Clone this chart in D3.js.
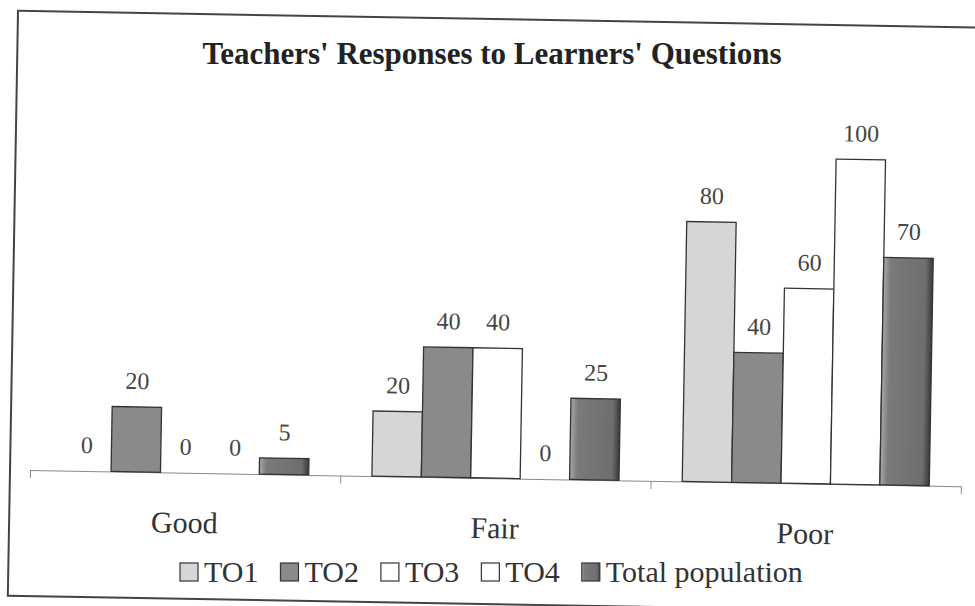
<!DOCTYPE html>
<html>
<head>
<meta charset="utf-8">
<script src="https://cdn.jsdelivr.net/npm/d3@7"></script>
<style>
  html, body { margin: 0; padding: 0; background: #fff; }
  svg { display: block; }
</style>
</head>
<body>
<script>
// data
const categories = ["Good", "Fair", "Poor"];
const series = ["TO1", "TO2", "TO3", "TO4", "Total population"];
const valuesTO1 = [0, 20, 80];
const valuesTO2 = [20, 40, 40];
const valuesTO3 = [0, 40, 60];
const valuesTO4 = [0, 0, 100];
const valuesTotal = [5, 25, 70];
const titleText = "Teachers' Responses to Learners' Questions";

const allValues = [valuesTO1, valuesTO2, valuesTO3, valuesTO4, valuesTotal];
const fills = ["#d6d6d6", "#8a8a8a", "#ffffff", "#ffffff", "url(#totalGrad)"];

const W = 975, H = 606;
const font = "'Liberation Serif', 'Times New Roman', serif";

const svg = d3.select("body").append("svg")
    .attr("width", W)
    .attr("height", H);

const defs = svg.append("defs");
const grad = defs.append("linearGradient").attr("id", "totalGrad")
    .attr("x1", "0%").attr("x2", "100%").attr("y1", "0%").attr("y2", "0%");
grad.append("stop").attr("offset", "0%").attr("stop-color", "#a8a8a8");
grad.append("stop").attr("offset", "15%").attr("stop-color", "#7a7a7a");
grad.append("stop").attr("offset", "85%").attr("stop-color", "#6e6e6e");
grad.append("stop").attr("offset", "100%").attr("stop-color", "#3a3a3a");

// the scan is tilted about a degree, the plot area follows it
const page = svg.append("g")
    .attr("transform", "rotate(1.0, 487, 303)");

page.append("rect")
    .attr("x", 13).attr("y", 19)
    .attr("width", 1000).attr("height", 585)
    .attr("fill", "none")
    .attr("stroke", "#444")
    .attr("stroke-width", 2);

const left = 33, right = 964, baseY = 478, topY = 153;

const x0 = d3.scaleBand()
    .domain(categories)
    .range([left, right])
    .padding(0);

const x1 = d3.scaleBand()
    .domain(series)
    .range([0, x0.bandwidth()])
    .paddingInner(0)
    .paddingOuter(0.64);

const y = d3.scaleLinear()
    .domain([0, 100])
    .range([baseY, topY]);

const rows = [];
categories.forEach(function(c, i){
    series.forEach(function(s, j){
        rows.push({cat: c, ser: s, value: allValues[j][i], fill: fills[j]});
    });
});

// baseline with ticks at the category edges
const xEdge = d3.scaleLinear().domain([0, categories.length]).range([left, right]);
const axis = page.append("g")
    .attr("transform", "translate(0," + baseY + ")")
    .call(d3.axisBottom(xEdge).tickValues(d3.range(categories.length + 1)).tickFormat("").tickSizeInner(8).tickSizeOuter(0));
axis.selectAll("path, line").attr("stroke", "#8a8a8a");

page.selectAll(".bar")
    .data(rows.filter(function(d){ return d.value > 0; }))
    .enter()
    .append("rect")
    .attr("class", "bar")
    .attr("x", function(d){ return x0(d.cat) + x1(d.ser); })
    .attr("y", function(d){ return y(d.value); })
    .attr("width", x1.bandwidth())
    .attr("height", function(d){ return baseY - y(d.value); })
    .attr("fill", function(d){ return d.fill; })
    .attr("stroke", "#333")
    .attr("stroke-width", 1.3);

page.selectAll(".textlabel")
    .data(rows)
    .enter()
    .append("text")
    .attr("class", "textlabel")
    .attr("x", function(d){ return x0(d.cat) + x1(d.ser) + x1.bandwidth() / 2; })
    .attr("y", function(d){ return y(d.value) - 18; })
    .attr("text-anchor", "middle")
    .attr("font-family", font)
    .attr("font-size", "24px")
    .attr("fill", "#444")
    .text(function(d){ return d.value; });

page.selectAll(".catlabel")
    .data(categories)
    .enter()
    .append("text")
    .attr("class", "catlabel")
    .attr("x", function(d){ return x0(d) + x0.bandwidth() / 2; })
    .attr("y", 538)
    .attr("text-anchor", "middle")
    .attr("font-family", font)
    .attr("font-size", "30px")
    .attr("fill", "#333")
    .text(function(d){ return d; });

// title and legend sit level in the scan
svg.append("text")
    .attr("x", 492)
    .attr("y", 64)
    .attr("text-anchor", "middle")
    .attr("font-family", font)
    .attr("font-size", "31px")
    .attr("font-weight", "bold")
    .attr("fill", "#222")
    .text(titleText);

const legend = svg.append("g").attr("class", "legend");
let lx = 180;
series.forEach(function(s, j){
    const item = legend.append("g");
    item.append("rect")
        .attr("x", lx).attr("y", 563)
        .attr("width", 18).attr("height", 18)
        .attr("fill", fills[j])
        .attr("stroke", "#333")
        .attr("stroke-width", 1.2);
    const t = item.append("text")
        .attr("x", lx + 24)
        .attr("y", 582)
        .attr("font-family", font)
        .attr("font-size", "30px")
        .attr("fill", "#333")
        .text(s);
    lx += 24 + t.node().getComputedTextLength() + 22;
});
</script>
</body>
</html>
